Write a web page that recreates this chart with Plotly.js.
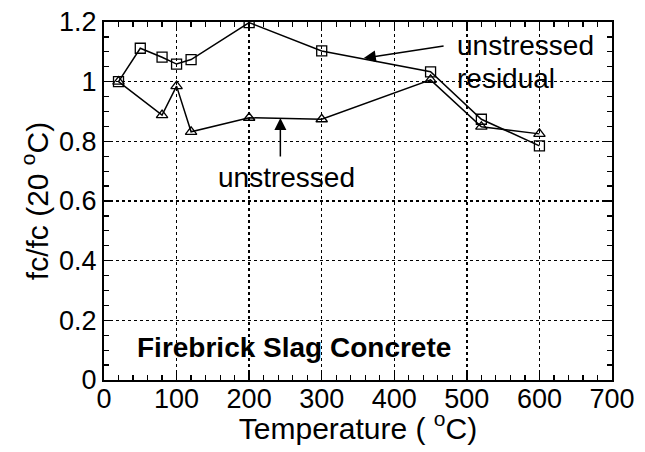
<!DOCTYPE html>
<html>
<head>
<meta charset="utf-8">
<script src="https://cdn.plot.ly/plotly-3.0.1.min.js"></script>
<style>html,body{margin:0;padding:0;background:#fff;}#chart{width:645px;height:452px;}</style>
</head>
<body>
<div id="chart"></div>
<script>
// Data
const residualTemp = [20, 50, 80, 100, 120, 200, 300, 450, 520, 600];
const residualRatio = [1.0, 1.112, 1.082, 1.059, 1.074, 1.198, 1.103, 1.033, 0.874, 0.785];
const unstressedTemp = [20, 80, 100, 120, 200, 300, 450, 520, 600];
const unstressedRatio = [1.0, 0.888, 0.985, 0.832, 0.879, 0.874, 1.006, 0.849, 0.825];
const xTickVals = [0, 100, 200, 300, 400, 500, 600, 700];
const yTickVals = [0, 0.2, 0.4, 0.6, 0.8, 1, 1.2];
const xTitle = 'Temperature ( <sup>o</sup>C)';
const yTitle = 'fc/fc (20 <sup>o</sup>C)';
const residualLabel = ['unstressed', 'residual'];
const unstressedLabel = 'unstressed';
const panelLabel = '<b>Firebrick Slag Concrete</b>';

const FONT = 'Arial, "Liberation Sans", Helvetica, sans-serif';

const traces = [
  {
    x: residualTemp, y: residualRatio, type: 'scatter', mode: 'lines+markers',
    name: 'unstressed residual',
    line: {color: '#000', width: 1.5},
    marker: {symbol: 'square-open', size: 10, color: '#000', line: {width: 1.3}}
  },
  {
    x: unstressedTemp, y: unstressedRatio, type: 'scatter', mode: 'lines+markers',
    name: 'unstressed',
    line: {color: '#000', width: 1.5},
    marker: {symbol: 'triangle-up-open', size: 10, color: '#000', line: {width: 1.3}}
  },
  // invisible helper traces so the overlay axes (minor ticks, x labels) are drawn
  {
    x: [xTickVals[0]], y: [yTickVals[0]], xaxis: 'x2', yaxis: 'y2', type: 'scatter',
    mode: 'markers', marker: {opacity: 0}, hoverinfo: 'skip', showlegend: false
  },
  {
    x: [xTickVals[0]], y: [yTickVals[0]], xaxis: 'x3', yaxis: 'y', type: 'scatter',
    mode: 'markers', marker: {opacity: 0}, hoverinfo: 'skip', showlegend: false
  }
];

const axisCommon = {
  showline: true, linecolor: '#000', linewidth: 2, mirror: 'ticks',
  ticks: 'inside', ticklen: 8, tickwidth: 1.5, tickcolor: '#000',
  showgrid: true, gridcolor: '#000', gridwidth: 1.5, griddash: 'dot',
  zeroline: false,
  tickfont: {family: FONT, size: 27, color: '#000'}
};

const minorCommon = {
  showline: true, linecolor: '#000', linewidth: 2, mirror: 'ticks',
  ticks: 'inside', ticklen: 5, tickwidth: 1.2, tickcolor: '#000',
  showgrid: false, zeroline: false, showticklabels: false
};

const layout = {
  width: 645, height: 452,
  margin: {l: 104, r: 33, t: 22, b: 72},
  paper_bgcolor: '#fff', plot_bgcolor: '#fff',
  showlegend: false,
  font: {family: FONT, color: '#000'},
  xaxis: Object.assign({}, axisCommon, {
    range: [0, 700], tickvals: xTickVals, showticklabels: false
  }),
  yaxis: Object.assign({}, axisCommon, {
    range: [0, 1.2], tickvals: yTickVals, ticksuffix: '\u2009',
    title: {text: yTitle, font: {family: FONT, size: 30, color: '#000'}, standoff: 2}
  }),
  xaxis2: Object.assign({}, minorCommon, {
    range: [0, 700], dtick: 20, tick0: 0, overlaying: 'x', anchor: 'y2', side: 'bottom',
    title: {text: xTitle, font: {family: FONT, size: 30, color: '#000'}, standoff: 37}
  }),
  yaxis2: Object.assign({}, minorCommon, {
    range: [0, 1.2], dtick: 0.05, tick0: 0, overlaying: 'y', anchor: 'x2', side: 'left'
  }),
  xaxis3: {
    range: [0, 700], tickvals: xTickVals, overlaying: 'x', anchor: 'free', position: 0,
    side: 'bottom', showline: false, ticks: '', showgrid: false, zeroline: false,
    tickfont: {family: FONT, size: 27, color: '#000'}
  },
  annotations: [
    {x: 484, y: 1.12, xref: 'x', yref: 'y', text: residualLabel[0], showarrow: false,
     xanchor: 'left', yanchor: 'middle', font: {family: FONT, size: 28, color: '#000'}},
    {x: 484, y: 1.01, xref: 'x', yref: 'y', text: residualLabel[1], showarrow: false,
     xanchor: 'left', yanchor: 'middle', font: {family: FONT, size: 28, color: '#000'}},
    {x: 358, y: 1.079, xref: 'x', yref: 'y', text: '', showarrow: true,
     axref: 'x', ayref: 'y', ax: 470, ay: 1.12,
     arrowhead: 2, arrowsize: 1.6, arrowwidth: 1.5, arrowcolor: '#000', standoff: 0, startstandoff: 0},
    {x: 251, y: 0.68, xref: 'x', yref: 'y', text: unstressedLabel, showarrow: false,
     xanchor: 'center', yanchor: 'middle', font: {family: FONT, size: 28, color: '#000'}},
    {x: 243, y: 0.878, xref: 'x', yref: 'y', text: '', showarrow: true,
     axref: 'x', ayref: 'y', ax: 243, ay: 0.744,
     arrowhead: 2, arrowsize: 1.6, arrowwidth: 1.5, arrowcolor: '#000', standoff: 0, startstandoff: 0},
    {x: 262, y: 0.11, xref: 'x', yref: 'y', text: panelLabel, showarrow: false,
     xanchor: 'center', yanchor: 'middle', font: {family: FONT, size: 28, color: '#000'}}
  ]
};

Plotly.newPlot('chart', traces, layout, {displayModeBar: false, staticPlot: true});
</script>
</body>
</html>
